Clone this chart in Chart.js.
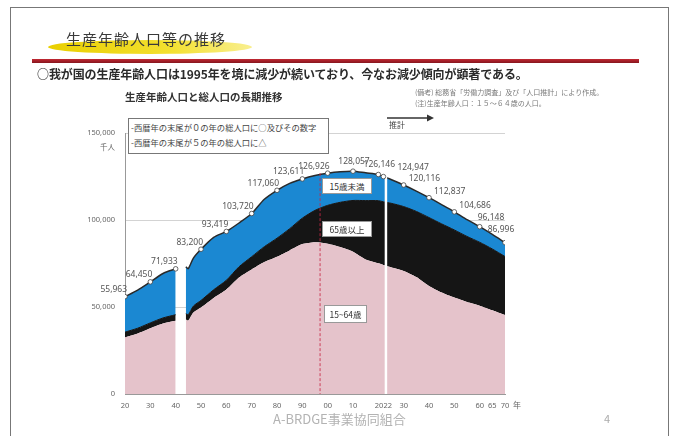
<!DOCTYPE html>
<html lang="ja">
<head>
<meta charset="utf-8">
<script src="https://cdn.jsdelivr.net/npm/chart.js@4.4.1/dist/chart.umd.min.js"></script>
<style>
  body { margin: 0; width: 676px; height: 436px; background: #fff; position: relative; overflow: hidden;
         font-family: "Noto Sans CJK JP", "Noto Sans", sans-serif; color: #333; }
  .abs { position: absolute; white-space: nowrap; z-index: 2; }
  #frame { left: 10px; top: 7px; width: 657px; height: 460px; border: 1.5px solid #777; z-index: 0; }
  #brush { left: 48px; top: 40px; width: 204px; height: 14px; border-radius: 50%;
           background: linear-gradient(90deg, #e9cf00, #f3e030 60%, #f9ef90); z-index: 1; }
  #title { left: 66px; top: 28px; font-size: 15px; letter-spacing: 1px; color: #3a3a3a; }
  #rule { left: 32px; top: 59px; width: 607px; height: 4px; background: linear-gradient(#c22832, #86161e); }
  #lead { left: 37px; top: 65px; font-size: 12px; font-weight: bold; color: #2a2a2a; letter-spacing: -0.1px; }
  .note { left: 415px; font-size: 7px; color: #7a7a7a; }
  #ctitle { left: 125px; top: 89px; font-size: 10.5px; font-weight: bold; color: #333; }
  #legendBox { left: 128px; top: 118px; width: 197px; height: 33px; border: 1px solid #777; background: #fff;
               font-size: 8.3px; line-height: 15px; color: #444; padding: 1px 0 0 2px; }
  .tag { background: #fff; border: 1px solid #999; font-size: 8.5px; color: #333; text-align: center; }
  #footer { left: 273px; top: 409px; font-size: 13px; color: #b3b3b3; }
  #page { left: 604px; top: 410px; font-size: 11px; color: #aaa; }
  canvas { position: absolute; left: 0; top: 0; z-index: 1; }
</style>
</head>
<body>
<div id="frame" class="abs"></div>
<div id="brush" class="abs"></div>
<div id="title" class="abs">生産年齢人口等の推移</div>
<div id="rule" class="abs"></div>
<div id="lead" class="abs">○我が国の生産年齢人口は1995年を境に減少が続いており、今なお減少傾向が顕著である。</div>
<div class="abs note" style="top:87px">(備考) 総務省「労働力調査」及び「人口推計」により作成。</div>
<div class="abs note" style="top:98px">(注)生産年齢人口：１５～６４歳の人口。</div>
<div id="ctitle" class="abs">生産年齢人口と総人口の長期推移</div>

<canvas id="popChart" width="676" height="436"></canvas>

<div id="legendBox" class="abs">-西暦年の末尾が０の年の総人口に○及びその数字<br>-西暦年の末尾が５の年の総人口に△</div>
<svg class="abs" style="left:386px;top:113px" width="50" height="10">
  <line x1="1" y1="5" x2="44" y2="5" stroke="#333" stroke-width="1.3"/>
  <polygon points="48,5 41,1.5 41,8.5" fill="#333"/>
</svg>
<div class="abs" style="left:389px;top:119px;font-size:8px;color:#444">推計</div>
<div class="abs" style="left:95px;top:141px;width:20px;text-align:right;font-size:7.5px;color:#666">千人</div>
<div class="abs" style="left:513px;top:399px;font-size:8px;color:#666">年</div>
<div class="abs tag" style="left:322px;top:178px;width:48px;height:14px;line-height:14px">15歳未満</div>
<div class="abs tag" style="left:322px;top:221px;width:48px;height:14px;line-height:14px">65歳以上</div>
<div class="abs tag" style="left:324px;top:305px;width:41px;height:16px;line-height:16px">15~64歳</div>
<div id="footer" class="abs">A-BRDGE事業協同組合</div>
<div id="page" class="abs">4</div>

<script>
// population in thousands; 1941-43 have no data
const years = [1920, 1925, 1930, 1935, 1940, 1941, 1942, 1943, 1944, 1945, 1947, 1950,
    1955, 1960, 1965, 1970, 1975, 1980, 1985, 1990, 1995, 2000, 2005, 2010, 2015, 2020,
    2022, 2025, 2030, 2035, 2040, 2045, 2050, 2055, 2060, 2065, 2070];
const under15 = [20416, 21924, 23579, 25545, 26369, null, null, null, 27000, 26500, 27573, 29428,
    30123, 28067, 25166, 24823, 27221, 27524, 26042, 22544, 20033, 18505, 17585, 16839, 15945, 15032,
    14503, 13633, 12397, 11691, 11419, 11027, 10406, 9659, 8930, 8360, 7975];
const working = [32605, 34792, 37807, 40484, 42110, null, null, null, 42800, 42200, 46783, 49658,
    55167, 60002, 66928, 71566, 75807, 78884, 82535, 86140, 87260, 86380, 84422, 81735, 77282, 75088,
    74208, 72858, 70757, 67216, 62133, 58323, 55402, 52914, 50781, 48091, 45350];
const elderly = [2942, 3021, 3064, 3225, 3454, null, null, null, 3300, 3400, 3745, 4114,
    4747, 5350, 6181, 7331, 8865, 10653, 12472, 14928, 18277, 22041, 25761, 29484, 33868, 36027,
    36236, 36771, 36962, 37727, 39285, 39451, 38878, 37640, 36437, 35247, 33671];

const totalYears = [1920, 1930, 1940, 1950, 1960, 1970, 1980, 1990, 2000, 2010, 2020, 2022,
    2030, 2040, 2050, 2060, 2070];
const totals = [55963, 64450, 71933, 83200, 93419, 103720, 117060, 123611, 126926, 128057, 126146, 124947,
    120116, 112837, 104686, 96148, 86996];

const tickYears = [1920, 1930, 1940, 1950, 1960, 1970, 1980, 1990, 2000, 2010, 2022, 2030, 2040, 2050, 2060, 2065, 2070];
const tickLabels = ['20', '30', '40', '50', '60', '70', '80', '90', '00', '10', '2022', '30', '40', '50', '60', '65', '70'];

const peakYear = 1997;      // red dashed line
const estimateFrom = 2023;  // white divider between actual and projection

function pts(values) {
    return years.map((y, i) => ({x: y, y: values[i]}));
}

function labelPos(year, p) {
    if (year <= 2000) return {x: p.x + 2, y: p.y - 7, align: 'right'};
    if (year <= 2020) return {x: p.x + 1, y: p.y - 10, align: 'center'};
    if (year === 2022) return {x: p.x + 14, y: p.y - 9, align: 'left'};
    if (year <= 2050) return {x: p.x + 5, y: p.y - 6, align: 'left'};
    if (year === 2060) return {x: p.x - 2, y: p.y - 9, align: 'left'};
    return {x: p.x - 4, y: p.y - 13, align: 'center'};
}

const overlay = {
    id: 'overlay',
    afterDatasetDraw(chart, args) {
        const ctx = chart.ctx;
        const xs = chart.scales.x;
        const area = chart.chartArea;
        const marks = chart.getDatasetMeta(3).data;
        if (args.index === 0) {
            ctx.save();
            // projection divider
            let x = xs.getPixelForValue(estimateFrom);
            ctx.strokeStyle = '#fff';
            ctx.lineWidth = 2.5;
            ctx.beginPath();
            ctx.moveTo(x, marks[totalYears.indexOf(2022)].y - 3);
            ctx.lineTo(x, area.bottom);
            ctx.stroke();
            // peak line
            x = xs.getPixelForValue(peakYear);
            ctx.strokeStyle = 'rgba(200,40,70,0.85)';
            ctx.lineWidth = 1;
            ctx.setLineDash([3, 2]);
            ctx.beginPath();
            ctx.moveTo(x, marks[totalYears.indexOf(2000)].y);
            ctx.lineTo(x, area.bottom);
            ctx.stroke();
            ctx.restore();
        }
        if (args.index === 3) {
            ctx.save();
            ctx.font = '8.5px "Noto Sans", sans-serif';
            ctx.fillStyle = '#555';
            ctx.textBaseline = 'middle';
            marks.forEach((p, i) => {
                const pos = labelPos(totalYears[i], p);
                ctx.textAlign = pos.align;
                ctx.fillText(totals[i].toLocaleString('en-US'), pos.x, pos.y);
            });
            ctx.restore();
        }
    }
};

new Chart(document.getElementById('popChart'), {
    type: 'line',
    data: {
        datasets: [{
            label: '15~64歳',
            data: pts(working),
            backgroundColor: '#e5c3cb',
            borderWidth: 0,
            fill: 'origin',
            stack: 'pop'
        }, {
            label: '65歳以上',
            data: pts(elderly),
            backgroundColor: '#151515',
            borderColor: '#151515',
            borderWidth: 1,
            fill: '-1',
            stack: 'pop'
        }, {
            label: '15歳未満',
            data: pts(under15),
            backgroundColor: '#1b88d2',
            borderColor: '#2a2a2a',
            borderWidth: 1.5,
            fill: '-1',
            stack: 'pop'
        }, {
            label: '総人口',
            data: totalYears.map((y, i) => ({x: y, y: totals[i]})),
            showLine: false,
            pointRadius: 2.3,
            pointBackgroundColor: '#fff',
            pointBorderColor: '#444',
            pointBorderWidth: 0.8,
            stack: 'total',
            order: -1
        }]
    },
    options: {
        responsive: false,
        animation: false,
        devicePixelRatio: 1,
        layout: { padding: { top: 133, right: 171, bottom: 0, left: 0 } },
        elements: { point: { radius: 0 }, line: { tension: 0.25 } },
        plugins: { legend: { display: false }, tooltip: { enabled: false } },
        scales: {
            x: {
                type: 'linear',
                min: 1920,
                max: 2070,
                afterBuildTicks: scale => { scale.ticks = tickYears.map(v => ({value: v})); },
                afterFit: scale => { scale.height = 42; },
                ticks: {
                    autoSkip: false,
                    maxRotation: 0,
                    padding: 7,
                    color: '#666',
                    font: { size: 7.5, family: '"Noto Sans", sans-serif' },
                    callback: (v, i) => tickLabels[i]
                },
                grid: { display: false, drawTicks: false },
                border: { display: true, color: '#999' }
            },
            y: {
                stacked: true,
                min: 0,
                max: 150000,
                afterFit: scale => { scale.width = 125; },
                ticks: {
                    stepSize: 50000,
                    padding: 10,
                    color: '#666',
                    font: { size: 7.5, family: '"Noto Sans", sans-serif' },
                    callback: v => v.toLocaleString('en-US')
                },
                grid: { color: '#c8c8c8', lineWidth: 0.8, drawTicks: false },
                border: { color: '#999' }
            }
        }
    },
    plugins: [overlay]
});
</script>
</body>
</html>
